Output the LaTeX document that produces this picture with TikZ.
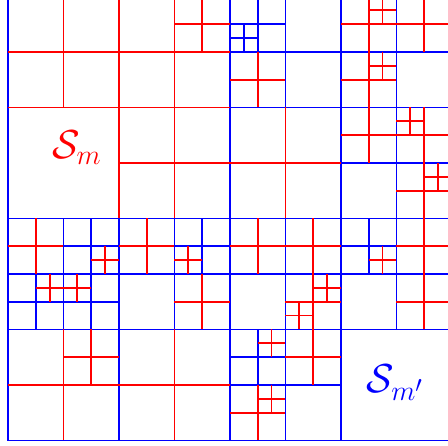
\documentclass[tikz,border=0pt]{standalone}
\begin{document}
\begin{tikzpicture}[x=1cm,y=-1cm,
  bl/.style={draw=blue,line width=0.9pt},
  rd/.style={draw=red,line width=0.9pt}]
\useasboundingbox (-0.1441,0.0631) rectangle (7.928,8.099);
\begin{scope}
\clip (-0.1441,0.0631) rectangle (7.928,8.099);
% ---------------- blue ----------------
\draw[bl] (0,-0.3) -- (0,8) -- (8.3,8);
\draw[bl] (4,-0.3) -- (4,8);
\draw[bl] (5,-0.3) -- (5,2);
\draw[bl] (5,4) -- (5,8);
\draw[bl] (6,-0.3) -- (6,8);
\draw[bl] (7,-0.3) -- (7,6);
\draw[bl] (2,4) -- (2,8);
\draw[bl] (3,4) -- (3,6);
\draw[bl] (4,1) -- (8.3,1);
\draw[bl] (4,2) -- (8.3,2);
\draw[bl] (6,3) -- (8.3,3);
\draw[bl] (0,4) -- (8.3,4);
\draw[bl] (0,5) -- (8.3,5);
\draw[bl] (0,6) -- (8.3,6);
\draw[bl] (4,7) -- (6,7);
% small blue subdivisions
\draw[bl] (4.5,-0.3) -- (4.5,1);
\draw[bl] (4,0.5) -- (5,0.5);
\draw[bl] (4.25,0.5) -- (4.25,1);
\draw[bl] (4,0.75) -- (4.5,0.75);
\draw[bl] (0.5,5) -- (0.5,6);
\draw[bl] (1,4) -- (1,6);
\draw[bl] (1.5,4) -- (1.5,6);
\draw[bl] (1,4.5) -- (2,4.5);
\draw[bl] (0,5.5) -- (2,5.5);
\draw[bl] (3.5,4) -- (3.5,5);
\draw[bl] (3,4.5) -- (4,4.5);
\draw[bl] (6.5,4) -- (6.5,5);
\draw[bl] (6,4.5) -- (7,4.5);
\draw[bl] (4.5,6) -- (4.5,7);
\draw[bl] (4,6.5) -- (5,6.5);
% ---------------- red ----------------
\draw[rd] (0,1) -- (4,1);
\draw[rd] (0,2) -- (4,2);
\draw[rd] (1,-0.3) -- (1,2);
\draw[rd] (2,-0.3) -- (2,4);
\draw[rd] (3,-0.3) -- (3,4);
\draw[rd] (3,6) -- (3,8);
\draw[rd] (3,0.5) -- (4,0.5);
\draw[rd] (3.5,-0.3) -- (3.5,1);
\draw[rd] (4.5,1) -- (4.5,2);
\draw[rd] (4,1.5) -- (5,1.5);
\draw[rd] (5,2) -- (5,4);
\draw[rd] (2,3) -- (6,3);
\draw[rd] (6.5,-0.3) -- (6.5,3);
\draw[rd] (6,0.5) -- (8.3,0.5);
\draw[rd] (6.75,-0.3) -- (6.75,0.5);
\draw[rd] (6.5,0.25) -- (7,0.25);
\draw[rd] (6.75,1) -- (6.75,1.5);
\draw[rd] (6.5,1.25) -- (7,1.25);
\draw[rd] (6,1.5) -- (7,1.5);
\draw[rd] (7.5,-0.3) -- (7.5,1);
\draw[rd] (7.5,2) -- (7.5,6);
\draw[rd] (6,2.5) -- (8.3,2.5);
\draw[rd] (7.25,2) -- (7.25,2.5);
\draw[rd] (7,2.25) -- (7.5,2.25);
\draw[rd] (7,3.5) -- (8.3,3.5);
\draw[rd] (7.75,3) -- (7.75,3.5);
\draw[rd] (7.5,3.25) -- (8.3,3.25);
% row 4-5
\draw[rd] (0.5,4) -- (0.5,5);
\draw[rd] (0,4.5) -- (1,4.5);
\draw[rd] (1.75,4.5) -- (1.75,5);
\draw[rd] (1.5,4.75) -- (2,4.75);
\draw[rd] (2.5,4) -- (2.5,5);
\draw[rd] (2,4.5) -- (3,4.5);
\draw[rd] (3.25,4.5) -- (3.25,5);
\draw[rd] (3,4.75) -- (3.5,4.75);
\draw[rd] (4.5,4) -- (4.5,5);
\draw[rd] (4,4.5) -- (6,4.5);
\draw[rd] (5.5,4) -- (5.5,7);
\draw[rd] (6.75,4.5) -- (6.75,5);
\draw[rd] (6.5,4.75) -- (7,4.75);
\draw[rd] (7,4.5) -- (8.3,4.5);
% row 5-6
\draw[rd] (0.75,5) -- (0.75,5.5);
\draw[rd] (1.25,5) -- (1.25,5.5);
\draw[rd] (0.5,5.25) -- (1.5,5.25);
\draw[rd] (3.5,5) -- (3.5,6);
\draw[rd] (3,5.5) -- (4,5.5);
\draw[rd] (5,5.5) -- (6,5.5);
\draw[rd] (5.75,5) -- (5.75,5.5);
\draw[rd] (5.5,5.25) -- (6,5.25);
\draw[rd] (5.25,5.5) -- (5.25,6);
\draw[rd] (5,5.75) -- (5.5,5.75);
\draw[rd] (7,5.5) -- (8.3,5.5);
% rows 6-8
\draw[rd] (5,6.5) -- (6,6.5);
\draw[rd] (4.75,6) -- (4.75,6.5);
\draw[rd] (4.5,6.25) -- (5,6.25);
\draw[rd] (4.5,7) -- (4.5,8);
\draw[rd] (4,7.5) -- (5,7.5);
\draw[rd] (4.75,7) -- (4.75,7.5);
\draw[rd] (4.5,7.25) -- (5,7.25);
\draw[rd] (0,7) -- (4,7);
\draw[rd] (1,6) -- (1,8);
\draw[rd] (1.5,6) -- (1.5,7);
\draw[rd] (1,6.5) -- (2,6.5);
\end{scope}
\node[red, anchor=base] (sm) at (1.243,2.91) {\huge$\mathcal{S}_m$};
\node[blue, anchor=base] (smp) at (6.98,7.144) {\huge$\mathcal{S}_{m'}$};
\end{tikzpicture}
\end{document}
